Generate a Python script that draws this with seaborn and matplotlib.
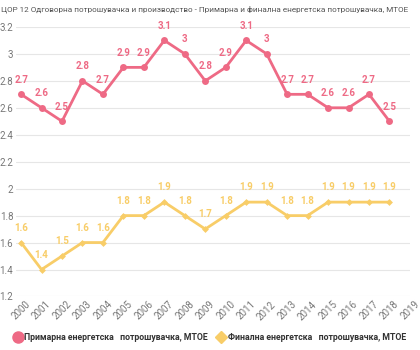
import pandas as pd
import matplotlib.pyplot as plt
import seaborn as sns
from matplotlib.lines import Line2D

years = list(range(2000, 2019))
primary = [2.7, 2.6, 2.5, 2.8, 2.7, 2.9, 2.9, 3.1, 3.0, 2.8, 2.9, 3.1, 3.0, 2.7, 2.7, 2.6, 2.6, 2.7, 2.5]
final = [1.6, 1.4, 1.5, 1.6, 1.6, 1.8, 1.8, 1.9, 1.8, 1.7, 1.8, 1.9, 1.9, 1.8, 1.8, 1.9, 1.9, 1.9, 1.9]
tick_years = list(range(2000, 2020))
yticks = [1.2, 1.4, 1.6, 1.8, 2, 2.2, 2.4, 2.6, 2.8, 3, 3.2]

title = "ЦОР 12 Одговорна потрошувачка и производство - Примарна и финална енергетска потрошувачка, МТОЕ"
name_primary = "Примарна енергетска   потрошувачка, МТОЕ"
name_final = "Финална енергетска   потрошувачка, МТОЕ"

pink = "#ee6a85"
yellow = "#f8cd68"

sns.set_style("white")
plt.rcParams['font.family'] = ['Roboto', 'DejaVu Sans']

df = pd.DataFrame({"year": years, "primary": primary, "final": final})

fig = plt.figure(figsize=(4.2, 3.5), dpi=100)
ax = fig.add_axes([0.038, 0.153, 0.938, 0.77])

sns.lineplot(x="year", y="primary", data=df, ax=ax, color=pink, lw=2,
             marker="o", markersize=5, markeredgewidth=0)
sns.lineplot(x="year", y="final", data=df, ax=ax, color=yellow, lw=2,
             marker="D", markersize=3.5, markeredgewidth=0)

for x, y in zip(years, primary):
    ax.annotate(f"{y:g}", (x, y), xytext=(0, 7), textcoords="offset points",
                ha="center", va="bottom", fontsize=7, fontweight="bold", color=pink)
for x, y in zip(years, final):
    ax.annotate(f"{y:g}", (x, y), xytext=(0, 7), textcoords="offset points",
                ha="center", va="bottom", fontsize=7, fontweight="bold", color=yellow)

ax.set_xlim(1999.75, 2019.0)
ax.set_ylim(1.2, 3.2)
ax.set_xticks(tick_years)
ax.set_xticklabels([str(t) for t in tick_years], rotation=45, fontsize=7, color="#777777")
ax.set_yticks(yticks)
ax.set_yticklabels([f"{t:g}" for t in yticks], fontsize=7, color="#777777")
ax.tick_params(axis="both", length=0, pad=2)
ax.yaxis.grid(True, color="#e6e6e6", lw=0.8)
ax.set_axisbelow(True)
for s in ax.spines.values():
    s.set_visible(False)
ax.set_xlabel("")
ax.set_ylabel("")

fig.text(0.003, 0.985, title, ha="left", va="top", fontsize=5.9, color="#555555")

handles = [
    Line2D([], [], ls="", marker="o", markersize=8, color=pink),
    Line2D([], [], ls="", marker="D", markersize=6.5, color=yellow),
]
leg = fig.legend(handles, [name_primary, name_final], loc="lower left",
                 bbox_to_anchor=(0.012, 0.0), ncol=2, frameon=False,
                 handletextpad=0.2, columnspacing=1.0, handlelength=1.1,
                 prop={"size": 6.3, "weight": "bold"})
for t in leg.get_texts():
    t.set_color("#333333")

fig.savefig("out.png", dpi=100)
